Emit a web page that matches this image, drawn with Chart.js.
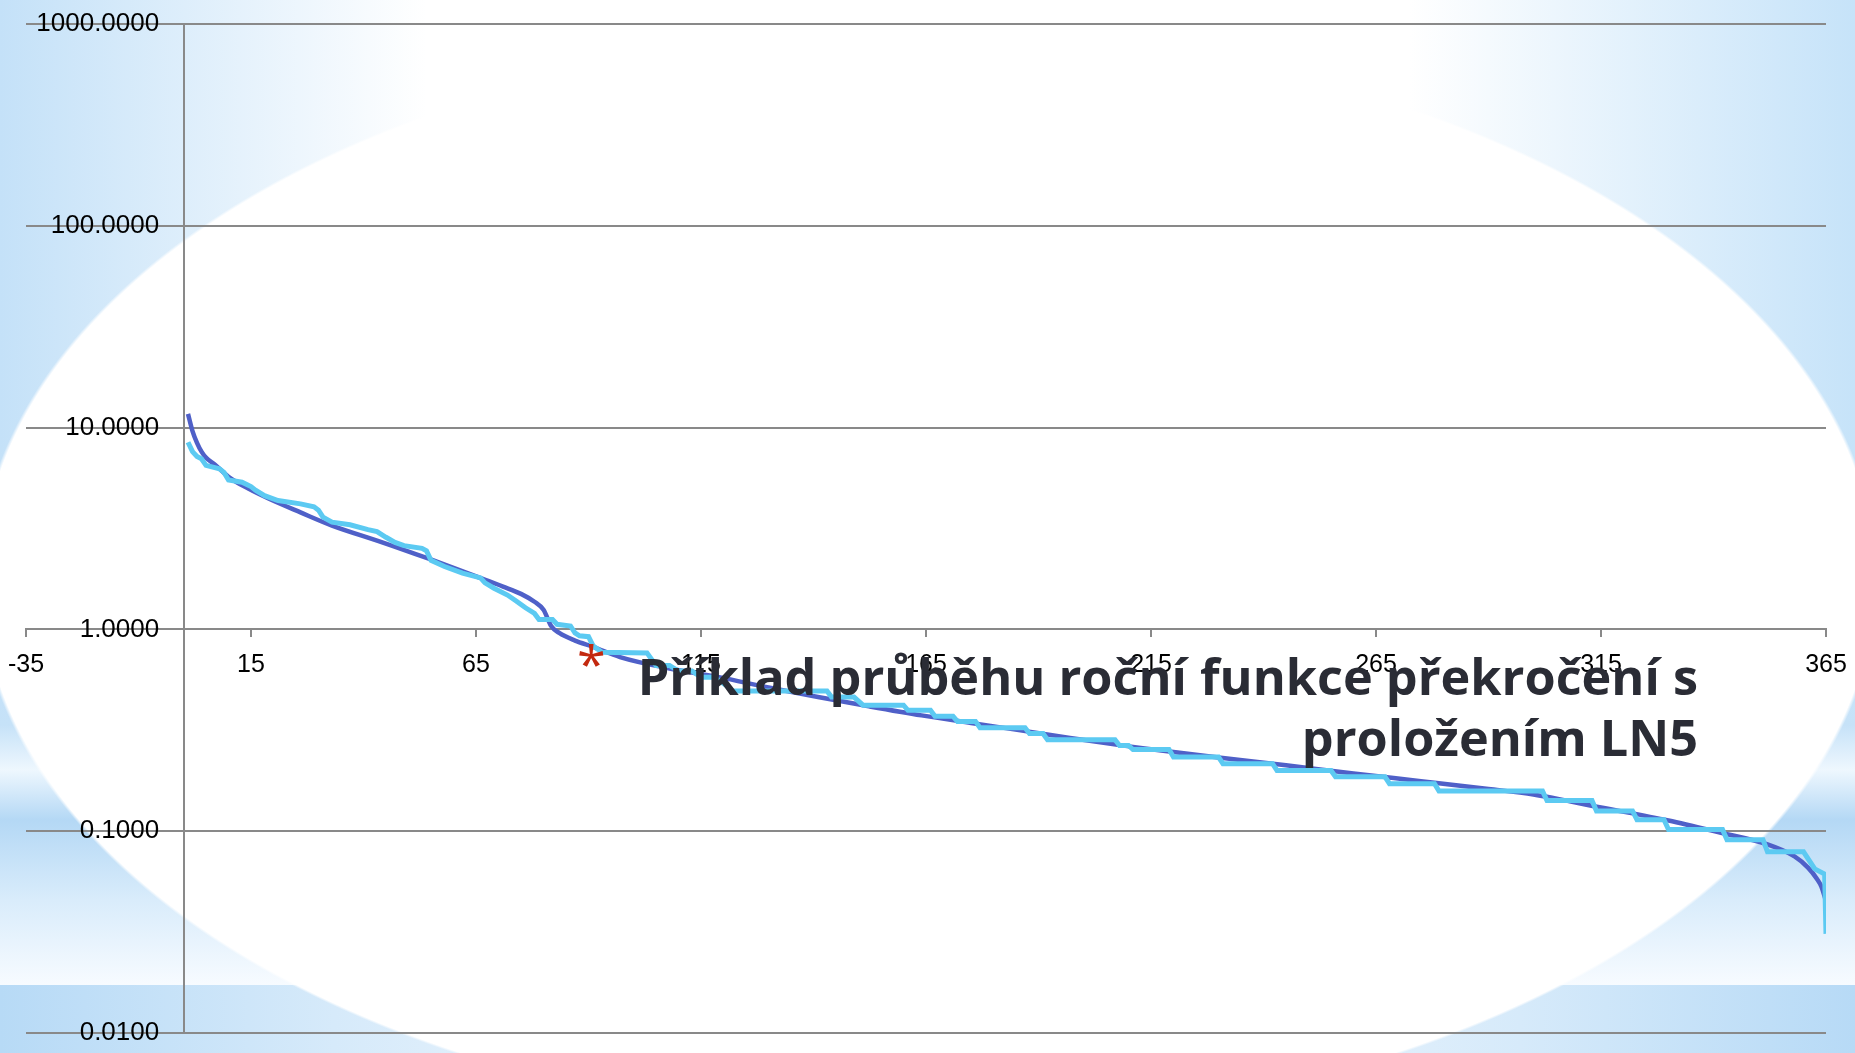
<!DOCTYPE html>
<html lang="cs">
<head>
<meta charset="UTF-8" />
<title>Roční funkce překročení</title>
<script src="https://cdn.jsdelivr.net/npm/chart.js@4.4.1/dist/chart.umd.min.js"></script>
<style>
	html, body { margin: 0; padding: 0; overflow: hidden; }
	#slide {
		position: relative;
		width: 1855px;
		height: 1053px;
		background:
			radial-gradient(ellipse 950px 547px at 928px 579px, #fff 99.6%, rgba(255, 255, 255, 0) 100%),
			linear-gradient(to right, #b7daf6 0%, #d6eafa 18%, #f2f8fe 40%, #f2f8fe 60%, #d6eafa 82%, #b7daf6 100%) 0 985px / 100% 68px no-repeat,
			linear-gradient(to bottom, rgba(196, 225, 248, 0) 0px, #c6e2f8 25px, #eef7fe 70px, #b4d8f5 120px, #d9ecfb 200px, #f7fbff 285px) 0 700px / 100% 285px no-repeat,
			linear-gradient(to right, #c4e1f8 0%, #fff 23%, #fff 76%, #c6e3f9 100%);
	}
	#wrap { position: absolute; left: 0; top: 0; width: 1855px; height: 1053px; }
	#bullet {
		position: absolute;
		left: 577px;
		top: 633px;
		font: 400 52px "Open Sans", sans-serif;
		line-height: 60px;
		color: #c3290f;
	}
	#title {
		position: absolute;
		right: 157px;
		top: 645px;
		font: 700 50.4px "Open Sans", sans-serif;
		line-height: 61px;
		color: #2a2c35;
		text-align: right;
		white-space: nowrap;
	}
</style>
</head>
<body>
<div id="slide">
	<div id="wrap"><canvas id="exceedChart"></canvas></div>
	<span id="bullet">*</span>
	<div id="title">Příklad průběhu roční funkce překročení s<br>proložením LN5</div>
</div>
<script>
	// axis ticks
	const xTicks = [-35, 15, 65, 115, 165, 215, 265, 315, 365];
	const yTicks = [0.01, 0.1, 1, 10, 100, 1000];

	// measured values (step line)
	const empDays = [
		1, 2, 3, 4, 5, 8, 9, 10, 13, 15, 16, 18, 21, 26, 29, 30, 31, 33, 37, 41,
		43, 45, 47, 49, 53, 54, 55, 58, 62, 66, 67, 69, 72, 74, 76, 78, 79, 82, 83, 86,
		87, 88, 90, 91, 93, 103, 105, 108, 110, 113, 115, 118, 121, 122, 143, 144, 149, 151, 160, 161,
		166, 167, 171, 172, 176, 177, 187, 188, 191, 192, 207, 208, 210, 211, 219, 220, 230, 231, 242, 243,
		255, 256, 267, 268, 278, 279, 302, 303, 313, 314, 322, 323, 329, 330, 342, 343, 351, 352, 360, 362.5,
		364.7, 365
	];
	const empValues = [
		8.46, 7.6, 7.2, 7.0, 6.5, 6.25, 6.0, 5.5, 5.36, 5.1, 4.9, 4.6, 4.35, 4.19, 4.05, 3.9, 3.6, 3.4, 3.3, 3.12,
		3.05, 2.86, 2.7, 2.6, 2.52, 2.45, 2.2, 2.05, 1.9, 1.8, 1.7, 1.6, 1.48, 1.38, 1.28, 1.2, 1.12, 1.12, 1.06, 1.04,
		0.96, 0.93, 0.92, 0.83, 0.77, 0.765, 0.663, 0.663, 0.622, 0.622, 0.58, 0.58, 0.52, 0.495, 0.495, 0.462, 0.462, 0.421, 0.421, 0.397,
		0.397, 0.371, 0.371, 0.35, 0.35, 0.326, 0.326, 0.305, 0.305, 0.284, 0.284, 0.266, 0.266, 0.254, 0.254, 0.233, 0.233, 0.216, 0.216, 0.2,
		0.2, 0.186, 0.186, 0.172, 0.172, 0.158, 0.158, 0.142, 0.142, 0.126, 0.126, 0.114, 0.114, 0.102, 0.102, 0.0906, 0.0906, 0.079, 0.079, 0.065,
		0.0613, 0.031
	];

	// LN5 fitted curve
	const fitDays = [
		1, 2, 3, 4, 5, 7, 10, 14.5, 19, 26, 33, 44, 54.5, 60, 66.5, 71, 75, 78, 80, 81.7,
		83.5, 87, 91, 97, 108, 119, 130, 141, 152, 164, 175, 186, 197, 208, 215, 230, 245, 260, 275, 290,
		300, 315, 330, 341, 352, 358, 361, 363, 364, 365
	];
	const fitValues = [
		11.7, 9.6, 8.4, 7.6, 7.1, 6.55, 5.7, 4.97, 4.44, 3.8, 3.27, 2.71, 2.24, 2.02, 1.78, 1.63, 1.5, 1.37, 1.25, 1.04,
		0.96, 0.88, 0.82, 0.729, 0.64, 0.58, 0.515, 0.462, 0.417, 0.375, 0.344, 0.316, 0.29, 0.267, 0.255, 0.232, 0.212, 0.193, 0.177, 0.162,
		0.152, 0.131, 0.113, 0.099, 0.086, 0.075, 0.066, 0.058, 0.053, 0.045
	];

	const gridGray = "#898989";
	// axes sit inside the plot, so they must not take layout space
	const noSpace = (scale) => {
		if (scale.isHorizontal()) scale.height = 0;
		else scale.width = 0;
		scale.paddingLeft = 0;
		scale.paddingRight = 0;
		scale.paddingTop = 0;
		scale.paddingBottom = 0;
	};

	Chart.defaults.font.family = '"Liberation Sans", Arial, sans-serif';
	Chart.defaults.font.size = 24;
	Chart.defaults.color = "#000";

	const ctx = document.getElementById("exceedChart").getContext("2d");

	new Chart(ctx, {
		type: "line",
		data: {
			datasets: [
				{
					label: "měření",
					data: empDays.map((d, i) => ({ x: d, y: empValues[i] })),
					borderColor: "#5ccaf2",
					borderWidth: 5,
					pointRadius: 0,
					tension: 0,
					order: 0,
				},
				{
					label: "LN5",
					data: fitDays.map((d, i) => ({ x: d, y: fitValues[i] })),
					borderColor: "#4f60c8",
					borderWidth: 4.5,
					pointRadius: 0,
					cubicInterpolationMode: "monotone",
					order: 1,
				},
			],
		},
		options: {
			responsive: true,
			maintainAspectRatio: false,
			animation: false,
			events: [],
			layout: { padding: { left: 26, right: 29, top: 24, bottom: 20 } },
			plugins: {
				legend: { display: false },
				tooltip: { enabled: false },
			},
			scales: {
				x: {
					type: "linear",
					min: -35,
					max: 365,
					position: { y: 1 },
					afterFit: noSpace,
					afterBuildTicks: (scale) => { scale.ticks = xTicks.map((v) => ({ value: v })); },
					grid: { display: true, drawOnChartArea: false, drawTicks: true, tickLength: 7, color: gridGray, lineWidth: 2 },
					border: { display: true, color: gridGray, width: 2 },
					ticks: { autoSkip: false, maxRotation: 0, padding: 14, font: { size: 25 } },
				},
				y: {
					type: "logarithmic",
					min: 0.01,
					max: 1000,
					position: { x: 0 },
					afterFit: noSpace,
					afterBuildTicks: (scale) => { scale.ticks = yTicks.map((v) => ({ value: v })); },
					grid: { color: gridGray, lineWidth: 2, drawTicks: false },
					border: { display: true, color: gridGray, width: 2 },
					ticks: { display: false },
				},
				// second log axis only for the labels, which sit left of the y line
				yLabels: {
					type: "logarithmic",
					min: 0.01,
					max: 1000,
					position: { x: -5.4 },
					afterFit: noSpace,
					afterBuildTicks: (scale) => { scale.ticks = yTicks.map((v) => ({ value: v })); },
					grid: { display: false },
					border: { display: false },
					ticks: {
						autoSkip: false,
						font: { size: 26 },
						callback: (v) => Number(v).toFixed(4),
					},
				},
			},
		},
	});
</script>
</body>
</html>
